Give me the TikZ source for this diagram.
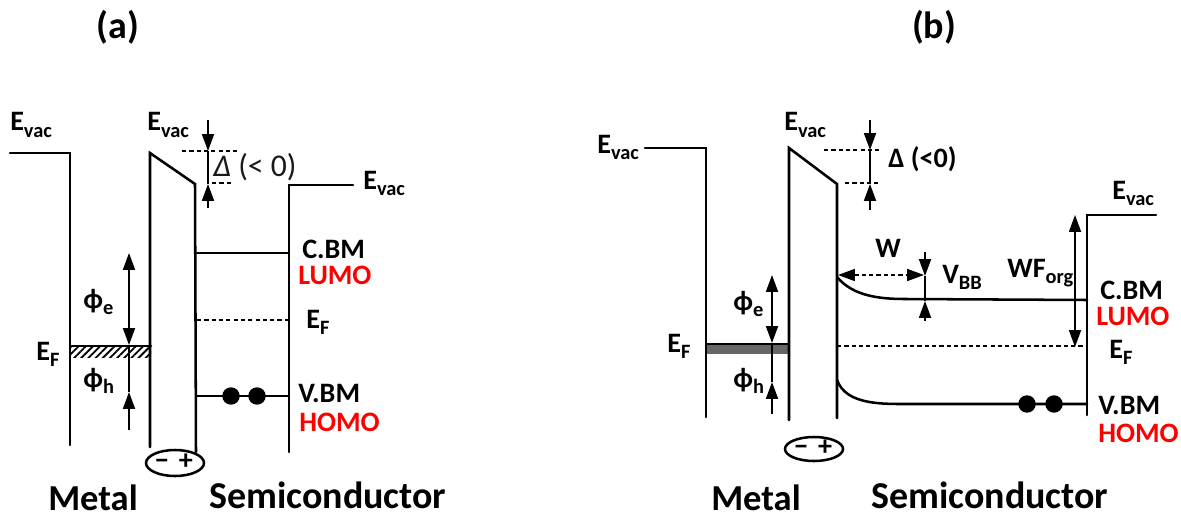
\documentclass[tikz,border=0pt]{standalone}
\usepackage{fontspec}
\setmainfont{Carlito}
\usetikzlibrary{arrows.meta,patterns.meta}
\newcommand{\subtxt}[1]{\raisebox{-0.22em}{\fontsize{14.5}{15}\selectfont #1}}
\tikzset{
    band/.style={line width=1.8pt,line cap=round,line join=miter},
    thinband/.style={line width=1.3pt},
    dotline/.style={line width=1.4pt,dash pattern=on 3pt off 2.2pt},
    updown/.style={line width=1.3pt,{Triangle[length=12pt,width=8.5pt]}-{Triangle[length=12pt,width=8.5pt]}},
    tohead/.style={line width=1.3pt,-{Triangle[length=12pt,width=8.5pt]}},
    lbl/.style={font=\fontsize{20}{20}\selectfont\bfseries,anchor=base west,inner sep=0pt},
    lblred/.style={lbl,text=red},
    title/.style={font=\fontsize{27}{27}\selectfont\bfseries,anchor=base west,inner sep=0pt},
    elec/.style={circle,fill=black,minimum size=17.5pt*0.71,inner sep=0pt},
    charge/.style={font=\fontsize{20}{20}\selectfont\bfseries,inner sep=0pt,text height=9pt,text depth=0pt}
}

\begin{document}
\begin{tikzpicture}[x=0.025cm,y=-0.025cm]
                \useasboundingbox (0,0) rectangle (1181,518);

                % panel a
                \node [title,anchor=center] (tita) at (118,27) {(a)};
                \fill [pattern={Lines[angle=45,distance=3.6pt,line width=1.3pt]}] (71,346) rectangle (151,357);
                \draw [band] (71,346) -- (151,346);
                \draw [band] (10,153) -- (70,153) -- (70,445);
                \draw [band] (150,447) -- (150,153) -- (195,184) -- (196,452);
                \draw [band] (289,452) -- (289,185) -- (353,185);
                \draw [band] (197,253) -- (289,253);
                \draw [dotline] (197,320) -- (289,320);
                \draw [band] (197,396) -- (289,396);
                \node [elec] (eaone) at (231,396) {};
                \node [elec] (eatwo) at (257,396) {};
                \draw [dotline] (182,151) -- (240,151);
                \draw [dotline] (212,183) -- (232,183);
                \draw [tohead] (208,120) -- (208,151);
                \draw [thinband] (208,151) -- (208,184);
                \draw [tohead] (208,208) -- (208,184);
                \draw [updown] (129,253) -- (129,345);
                \draw [thinband] (129,345) -- (129,392);
                \draw [tohead] (129,430) -- (129,392);
                \draw [band] (175,463) ellipse (29 and 13);
                \node [charge] (mina) at (162,463) {−};
                \node [charge] (plua) at (186,463) {+};

                \node [lbl] (evaca) at (10,131) {E\subtxt{vac}};
                \node [lbl] (evacb) at (147,131) {E\subtxt{vac}};
                \node [lbl] (evacc) at (363,189) {E\subtxt{vac}};
                \node [lbl,font=\fontsize{22.5}{23}\selectfont,text=black!90] (dela) at (213,177) {\textit{Δ} (< 0)};
                \node [lbl] (cbma) at (302,258) {C.BM};
                \node [lblred] (lumoa) at (298,284) {LUMO};
                \node [lbl] (efa) at (306,328) {E\subtxt{F}};
                \node [lbl] (vbma) at (298,402) {V.BM};
                \node [lblred] (homoa) at (299,431) {HOMO};
                \node [lbl] (efma) at (36,360) {E\subtxt{F}};
                \node [lbl] (phea) at (83,308) {ϕ\subtxt{e}};
                \node [lbl] (phha) at (83,387) {ϕ\subtxt{h}};
                \node [title,font=\fontsize{26}{26}\selectfont\bfseries] (meta) at (48,510) {Metal};
                \node [title] (sema) at (209,508) {Semiconductor};

                % panel b
                \node [title,anchor=center] (titb) at (934,27) {(b)};
                \fill [black!60] (707,344) rectangle (789,354);
                \draw [thinband] (707,344) -- (789,344);
                \draw [band] (645,148) -- (706,148) -- (706,417);
                \draw [band] (789,420) -- (789,148) -- (837,184) -- (837,418);
                \draw [band] (1087,415) -- (1087,215) -- (1156,215);
                \draw [band] (837,277)
                    to [out=-50,in=180,looseness=0.9] (905,299)
                    -- (1087,300)
                ;
                \draw [dotline] (837,346) -- (1087,346);
                \draw [band] (837,380)
                    to [out=-70,in=180,looseness=0.9] (910,404)
                    -- (1087,404)
                ;
                \node [elec] (ebone) at (1027,404) {};
                \node [elec] (ebtwo) at (1054,404) {};
                \draw [dotline] (824,150) -- (880,150);
                \draw [dotline] (845,183) -- (878,183);
                \draw [tohead] (870,120) -- (870,150);
                \draw [thinband] (870,150) -- (870,184);
                \draw [tohead] (870,210) -- (870,184);
                \draw [updown] (772,275) -- (772,343);
                \draw [thinband] (772,343) -- (772,382);
                \draw [tohead] (772,414) -- (772,382);
                \draw [updown,dash pattern=on 3pt off 2.2pt] (838,275) -- (924,275);
                \draw [tohead] (925,252) -- (925,276);
                \draw [thinband] (925,276) -- (925,301);
                \draw [tohead] (925,321) -- (925,301);
                \draw [updown] (1075,215) -- (1075,347);
                \draw [band] (814,449) ellipse (29 and 12);
                \node [charge] (minb) at (801,449) {−};
                \node [charge] (plub) at (825,449) {+};

                \node [lbl] (evacd) at (597,153) {E\subtxt{vac}};
                \node [lbl] (evace) at (784,131) {E\subtxt{vac}};
                \node [lbl] (evacf) at (1112,199) {E\subtxt{vac}};
                \node [lbl] (delb) at (888,167) {Δ (<0)};
                \node [lbl] (wid) at (875,257) {W};
                \node [lbl] (vbb) at (942,283) {V\subtxt{BB}};
                \node [lbl] (wforg) at (1007,277) {WF\subtxt{org}};
                \node [lbl] (cbmb) at (1100,299) {C.BM};
                \node [lblred] (lumob) at (1096,325) {LUMO};
                \node [lbl] (efb) at (1109,358) {E\subtxt{F}};
                \node [lbl] (vbmb) at (1098,414) {V.BM};
                \node [lblred] (homob) at (1098,442) {HOMO};
                \node [lbl] (efmb) at (667,352) {E\subtxt{F}};
                \node [lbl] (pheb) at (733,310) {ϕ\subtxt{e}};
                \node [lbl] (phhb) at (733,387) {ϕ\subtxt{h}};
                \node [title,font=\fontsize{26}{26}\selectfont\bfseries] (metb) at (711,510) {Metal};
                \node [title] (semb) at (871,508) {Semiconductor};
\end{tikzpicture}
\end{document}
